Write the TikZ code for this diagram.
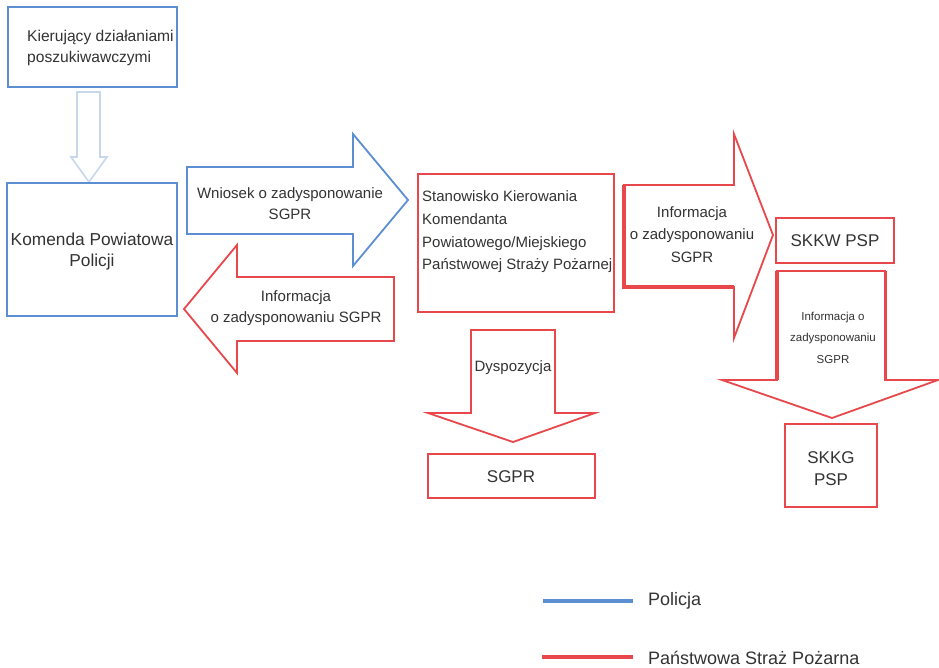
\documentclass[tikz,border=0pt]{standalone}
\usepackage{fontspec}
\setmainfont{Liberation Sans}
\definecolor{pblue}{HTML}{5B8FD2}
\definecolor{pred}{HTML}{E8484B}
\definecolor{pale}{HTML}{C8D7EA}
\definecolor{txt}{HTML}{333333}
\tikzset{
  bluebox/.style={draw=pblue, line width=1.8pt},
  redbox/.style={draw=pred, line width=1.8pt},
  blockarrow/.style={line width=1.8pt, line join=miter},
  lbl/.style={text=txt, inner sep=0pt, align=center},
  lblleft/.style={text=txt, inner sep=0pt, align=left},
  f15/.style={font=\fontsize{15}{21}\selectfont},
  f15w/.style={font=\fontsize{15}{22.7}\selectfont},
  f17/.style={font=\fontsize{17}{21.5}\selectfont},
  f11/.style={font=\fontsize{11.5}{21.5}\selectfont},
  legendline/.style={line width=3.2pt}
}
\begin{document}
\begin{tikzpicture}[x=1pt,y=-1pt]
\useasboundingbox (0,0) rectangle (939,667);
\fill[white] (0,0) rectangle (939,667);

% Box: Kierujacy
\draw[bluebox] (8,7) rectangle (177,87);
\node[lblleft, font=\fontsize{15.6}{21}\selectfont, anchor=west] (kier) at (27,47.5) {Kierujący działaniami\\poszukiwawczymi};

% pale down arrow
\draw[blockarrow, draw=pale, line width=1.6pt] (77,92) -- (100,92) -- (100,157) -- (107,157) -- (89,182) -- (71,157) -- (77,157) -- cycle;

% Box: Komenda
\draw[bluebox] (7,183) rectangle (177,316);
\node[lbl, font=\fontsize{17.3}{21}\selectfont] (kpp) at (92,251.5) {Komenda Powiatowa\\Policji};

% Blue right arrow
\draw[blockarrow, draw=pblue] (187,167) -- (353,167) -- (353,134) -- (408,200) -- (353,266) -- (353,234) -- (187,234) -- cycle;
\node[lbl, f15] (wniosek) at (290,203.5) {Wniosek o zadysponowanie\\SGPR};

% Red left arrow
\draw[blockarrow, draw=pred] (394,277) -- (237,277) -- (237,245) -- (184,309) -- (237,373) -- (237,341) -- (394,341) -- cycle;
\node[lbl, f15] (info1) at (296,308.5) {Informacja\\o zadysponowaniu SGPR};

% Box: Stanowisko
\draw[redbox] (418,174) rectangle (614,312);
\node[lblleft, f15w, anchor=west] (skk) at (422,232) {Stanowisko Kierowania\\Komendanta\\Powiatowego/Miejskiego\\Państwowej Straży Pożarnej};

% Dyspozycja arrow
\draw[blockarrow, draw=pred] (471,330) -- (555,330) -- (555,413) -- (595,413) -- (513,442) -- (428,413) -- (471,413) -- cycle;
\draw[pred, line width=2.6pt] (471,330) -- (471,413);
\node[lbl, f15] (dysp) at (513,368) {Dyspozycja};

% SGPR box
\draw[redbox] (428,454) rectangle (595,498);
\node[lbl, f17] (sgpr) at (511,477) {SGPR};

% Right red arrow
\draw[blockarrow, draw=pred] (624,185) -- (734,185) -- (734,134) -- (773,235) -- (734,338) -- (734,287) -- (624,287) -- cycle;
\draw[pred, line width=3.6pt, line join=miter] (624,185) -- (624,287) -- (734,287);
\node[lbl, font=\fontsize{15}{22.5}\selectfont] (info2) at (692,234.5) {Informacja\\o zadysponowaniu\\SGPR};

% SKKW box
\draw[redbox] (776,218) rectangle (894,263);
\node[lbl, f17] (skkw) at (835,241) {SKKW PSP};

% Down right arrow
\draw[blockarrow, draw=pred] (777,271) -- (885,271) -- (885,380) -- (938,380) -- (832,418) -- (722,380) -- (777,380) -- cycle;
\draw[pred, line width=3.6pt] (777,271) -- (777,380);
\draw[pred, line width=3pt] (885,271) -- (885,380);
\node[lbl, f11] (info3) at (833,337.5) {Informacja o\\zadysponowaniu\\SGPR};

% SKKG box
\draw[redbox] (785,424) rectangle (877,507);
\node[lbl, font=\fontsize{17}{22}\selectfont] (skkg) at (831,469) {SKKG\\PSP};

% Legend
\coordinate (lb1) at (543,601);
\coordinate (lb2) at (633,601);
\coordinate (lr1) at (542,657);
\coordinate (lr2) at (633,657);
\draw[legendline, pblue] (lb1) -- (lb2);
\draw[legendline, pred] (lr1) -- (lr2);
\node[lblleft, font=\fontsize{18}{21}\selectfont, anchor=west] (legp) at (648,601) {Policja};
\node[lblleft, font=\fontsize{18}{21}\selectfont, anchor=west] (legs) at (648,658) {Państwowa Straż Pożarna};
\end{tikzpicture}
\end{document}
